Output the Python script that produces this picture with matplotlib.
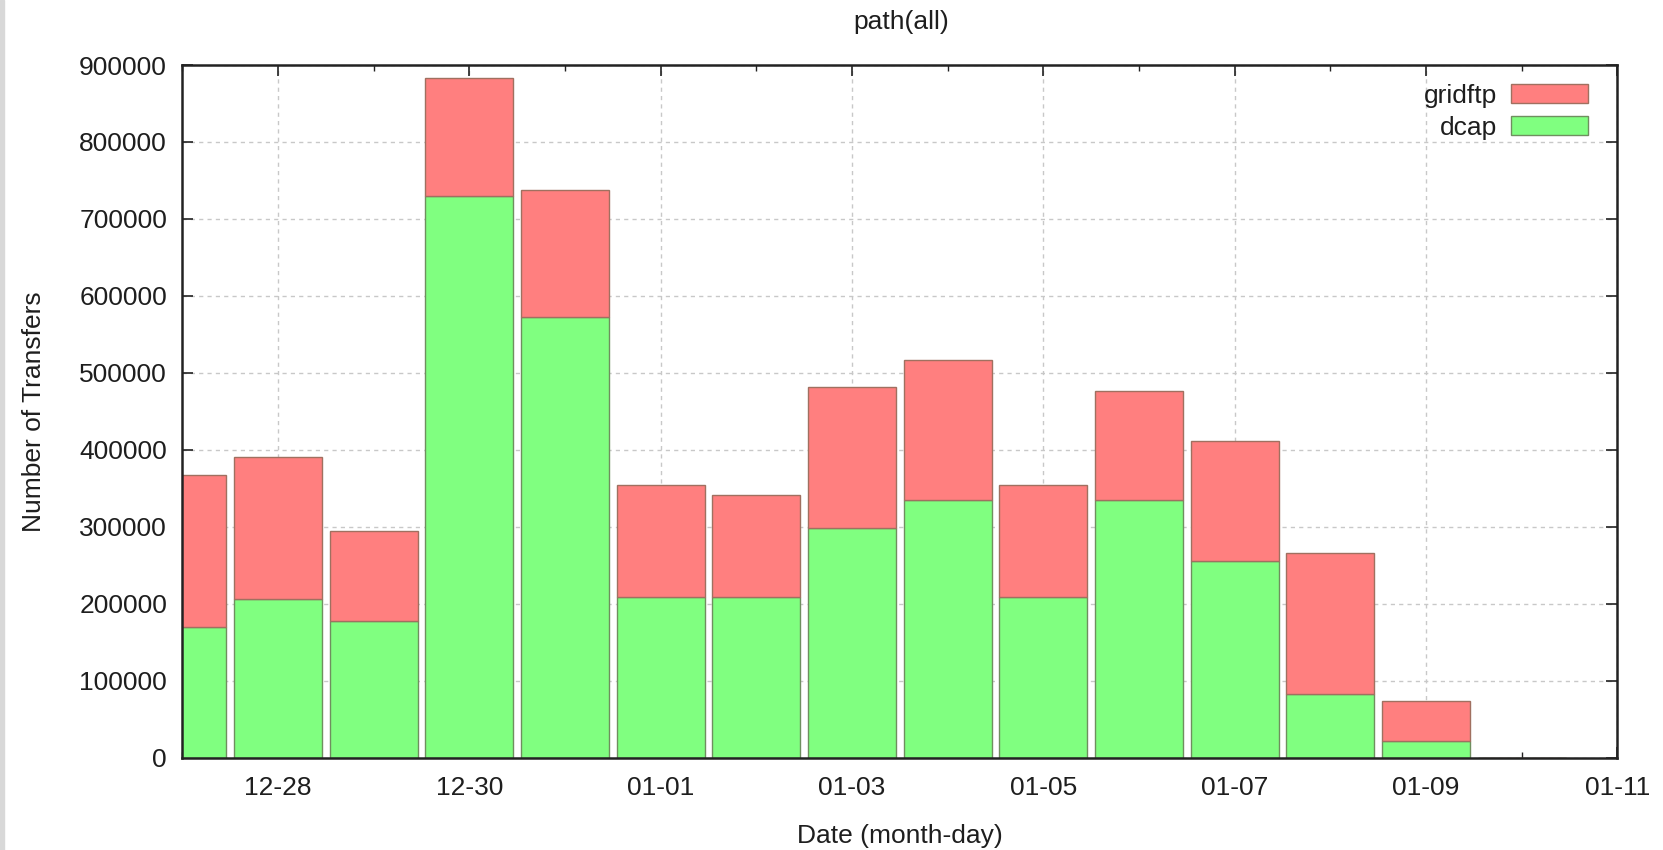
import numpy as np
import matplotlib
matplotlib.use('Agg')
import matplotlib.pyplot as plt
from matplotlib.ticker import MultipleLocator

plt.rcParams['font.family'] = ['Liberation Sans', 'DejaVu Sans']

# one bar per day, 12-27 .. 01-10
dates = ['12-27', '12-28', '12-29', '12-30', '12-31', '01-01', '01-02', '01-03',
         '01-04', '01-05', '01-06', '01-07', '01-08', '01-09', '01-10']
dcap = [169000, 206000, 177000, 730000, 573000, 209000, 209000, 298000,
        335000, 209000, 335000, 255000, 82000, 21000, 0]
total = [367000, 391000, 294000, 883000, 737000, 354000, 341000, 482000,
         517000, 354000, 476000, 411000, 266000, 74000, 0]
gridftp = [t - d for t, d in zip(total, dcap)]

# tick labels every second day, last one is the axis end
tick_labels = ['12-28', '12-30', '01-01', '01-03', '01-05', '01-07', '01-09', '01-11']

x = np.arange(len(dates))
FS = 19
TXT = '#1e1e1e'

fig = plt.figure(figsize=(16.63, 8.5), dpi=100)
fig.patch.set_facecolor('white')
ax = fig.add_axes([182.4 / 1663, 1 - 757.5 / 850, 1435 / 1663, 692.5 / 850])

# thin grey strip on the left edge of the image
fig.patches.append(plt.Rectangle((0, 0), 4 / 1663, 1, transform=fig.transFigure,
                                 color='#d8d8d8', zorder=0))

ax.bar(x, dcap, width=0.92, color='#80ff80', edgecolor='#6f8f5f', linewidth=1.0,
       label='dcap', zorder=3)
ax.bar(x, gridftp, width=0.92, bottom=dcap, color='#ff7f7f', edgecolor='#a07060',
       linewidth=1.0, label='gridftp', zorder=3)

ax.set_xlim(0, 15)
ax.set_ylim(0, 900000)
ax.set_xticks(np.arange(1, 16, 2))
ax.set_xticklabels(tick_labels)
ax.xaxis.set_minor_locator(MultipleLocator(1))
ax.yaxis.set_major_locator(MultipleLocator(100000))

ax.tick_params(which='both', direction='in', top=True, right=True, colors='#222222',
               labelsize=FS, labelcolor=TXT)
ax.tick_params(which='major', length=8, width=1.2)
ax.tick_params(which='minor', length=4, width=1.0)
ax.tick_params(axis='x', pad=13)
ax.tick_params(axis='y', pad=11)

ax.grid(True, which='major', linestyle=(0, (3, 3)), color='#c8c8c8', linewidth=1.0,
        zorder=0)
ax.set_axisbelow(True)
for s in ax.spines.values():
    s.set_linewidth(1.8)
    s.set_color('#222222')
    s.set_zorder(5)

ax.set_ylabel('Number of Transfers', fontsize=FS, color=TXT)
ax.yaxis.label.set_va('center')
ax.yaxis.set_label_coords(-0.1034, 0.5)
ax.set_xlabel('Date (month-day)', fontsize=FS, color=TXT)
ax.xaxis.label.set_va('center')
ax.xaxis.set_label_coords(0.5, -0.1136)

fig.text(901 / 1663, 1 - 22 / 850, 'path(all)', ha='center', va='center',
         fontsize=FS, color=TXT)

h, l = ax.get_legend_handles_labels()
ax.legend(h[::-1], l[::-1], loc='upper right', bbox_to_anchor=(0.9886, 0.992),
          frameon=False, markerfirst=False, fontsize=FS, handlelength=2.9,
          handleheight=0.72, labelspacing=0.3, handletextpad=0.55,
          borderaxespad=0.0, borderpad=0.5, labelcolor=TXT)

plt.savefig('out.png', dpi=100)
